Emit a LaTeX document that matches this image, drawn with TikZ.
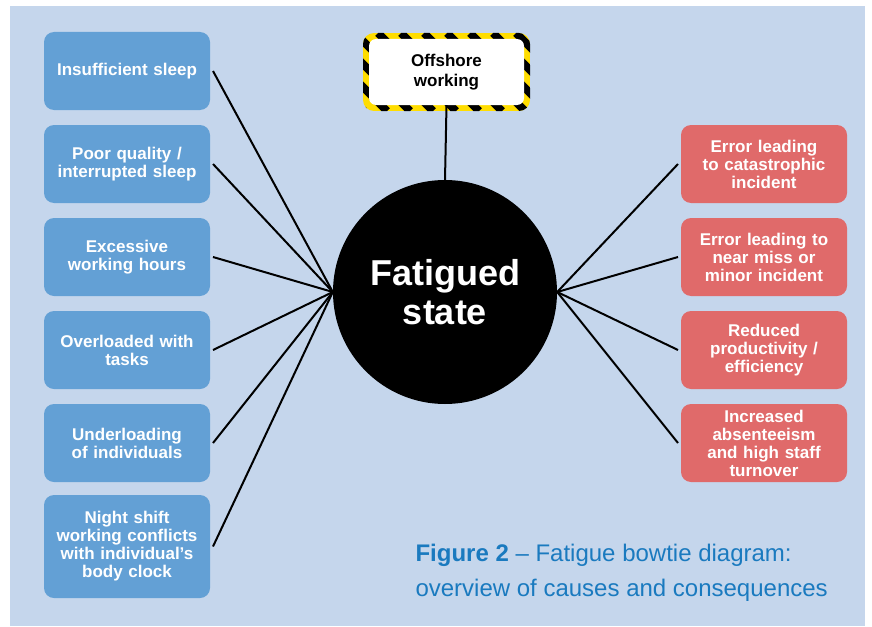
\documentclass[tikz,border=0pt]{standalone}
\usepackage{fontspec}
\setmainfont{Liberation Sans}
\usetikzlibrary{calc}
\definecolor{bow_bg}{RGB}{197, 214, 236}
\definecolor{cause_blue}{RGB}{99, 160, 213}
\definecolor{cons_red}{RGB}{224, 106, 106}
\definecolor{hazard_yellow}{RGB}{255, 221, 0}
\definecolor{caption_blue}{RGB}{26, 122, 191}
\tikzstyle{cause}=[rectangle,rounded corners=10pt,fill=cause_blue,text=white,
  inner sep=4pt,text width=158pt,minimum height=78pt,align=center,outer sep=3pt,
  font=\fontsize{17}{18}\selectfont\bfseries]
\tikzstyle{cons}=[cause,fill=cons_red]
\tikzstyle{hub}=[circle,fill=black,text=white,minimum size=224pt,align=center,
  font=\fontsize{36}{39}\selectfont\bfseries]
\tikzstyle{hazard}=[rectangle,rounded corners=7pt,fill=white,text=black,
  minimum width=155pt,minimum height=66pt,align=center,
  font=\fontsize{17}{20}\selectfont\bfseries]
\tikzstyle{link}=[line width=2pt,black]
\tikzstyle{none}=[]

\begin{document}
\begin{tikzpicture}[x=1pt,y=-1pt]
        \useasboundingbox (0,0) rectangle (872,626);
        \fill[bow_bg] (10,6) rectangle (865,626);
        % hazard frame
        \begin{scope}
            \clip[rounded corners=11pt] (363,33) rectangle (530,111);
            \fill[hazard_yellow] (363,33) rectangle (530,111);
            \foreach \x in {-100,-77,...,200}
                \draw[line width=8pt] (363+\x,33) -- (441+\x,111);
        \end{scope}
        \node [style=hub] (0) at (445, 292) {Fatigued\\state};
        \node [style=hazard] (7) at (446.5, 72) {Offshore\\working};
		\node [style=cause] (1) at (127, 71) {Insufficient sleep};
		\node [style=cause] (2) at (127, 164) {Poor quality /\\interrupted sleep};
		\node [style=cause] (3) at (127, 257) {Excessive\\working hours};
		\node [style=cause] (4) at (127, 350) {Overloaded with\\tasks};
		\node [style=cause] (5) at (127, 443) {Underloading\\of individuals};
		\node [style=cause, minimum height=103pt] (6) at (127, 546.5) {Night shift\\working conflicts\\with individual’s\\body clock};
		\node [style=cons] (8) at (764, 164) {Error leading\\to catastrophic\\incident};
		\node [style=cons] (9) at (764, 257) {Error leading to\\near miss or\\minor incident};
		\node [style=cons] (10) at (764, 350) {Reduced\\productivity /\\efficiency};
		\node [style=cons] (11) at (764, 443) {Increased\\absenteeism\\and high staff\\turnover};
		\node [style=none, anchor=north west, align=left, text=caption_blue,
		  font=\fontsize{24}{35}\selectfont] (12) at (412, 541)
		  {\textbf{Figure 2} – Fatigue bowtie diagram:\\overview of causes and consequences};
		\draw [style=link] (0.north) to (7.south);
		\foreach \n in {1,...,6}
		    \draw [style=link] (\n.east) to (0.west);
		\foreach \n in {8,...,11}
		    \draw [style=link] (0.east) to (\n.west);
    \end{tikzpicture}
\end{document}
